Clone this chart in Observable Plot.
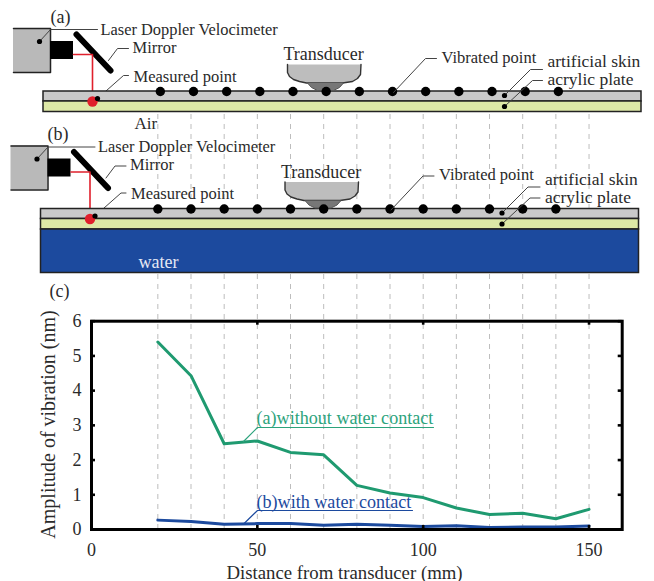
<!DOCTYPE html>
<html><head><meta charset="utf-8">
<script src="https://cdn.jsdelivr.net/npm/d3@7"></script>
<script src="https://cdn.jsdelivr.net/npm/@observablehq/plot@0.6"></script>
<style>html,body{margin:0;background:#fff}svg{display:block}</style>
</head><body><div id="chart"></div>
<script>
// ---- chart data ----
const distances = [20,30,40,50,60,70,80,90,100,110,120,130,140,150];
const withoutWater = [5.4,4.43,2.47,2.55,2.22,2.15,1.27,1.05,0.92,0.62,0.43,0.47,0.31,0.58];
const withWater = [0.27,0.23,0.15,0.17,0.17,0.12,0.15,0.12,0.09,0.11,0.06,0.07,0.07,0.1];
const xTicks = [0,50,100,150];
const yTicks = [0,1,2,3,4,5,6];
const vibratedMm = [20,30,40,50,60,70,80,90,100,110,120,130,140];

// ---- scale geometry ----
const L=91, R=621.7, T=320.7, B=529;
const mmPerPx = 160/(R-L), nmPerPx = 6/(B-T);
// schematic parts are laid out on the page, expressed through the chart's scales
const X = px => (px-L)*mmPerPx, Y = py => (B-py)*nmPerPx;
const pts = a => a.map(([x,y]) => ({x:X(x), y:Y(y)}));
const serif = "'Liberation Serif','Times New Roman',serif";
const GREEN="#1f9a70", GREENT="#2ca37c", BLUE="#1c4a9e", RED="#e0202c", INK="#222";

const poly = (a,o={}) => Plot.line(pts(a),{x:"x",y:"y",stroke:INK,strokeWidth:1,...o});
const rect = (x1,y1,x2,y2,o={}) => Plot.rect([{x1:X(x1),x2:X(x2),y1:Y(y1),y2:Y(y2)}],{x1:"x1",x2:"x2",y1:"y1",y2:"y2",...o});
const dot = (x,y,r,o={}) => Plot.dot(pts([[x,y]]),{x:"x",y:"y",r,fill:"#000",...o});
const label = (t,x,y,size=16,o={}) => Plot.text([{t,x:X(x),y:Y(y)}],{x:"x",y:"y",text:"t",textAnchor:"start",fontSize:size,fill:"#2a2a2a",...o});

function apparatus(dx,dy,ptsShift,opts){
  const s=([x,y])=>[x+dx,y+dy];
  const P=a=>a.map(s);
  return [
    rect(13+dx,28+dy,50+dx,72+dy,{fill:"#b9b9b9"}),
    poly(P([[13,28],[50,28],[50,72],[13,72]]),{strokeWidth:1.5}),
    rect(50+dx,41+dy,73+dx,59+dy,{fill:"#000"}),
    poly(P([[76,34],[110,70]]),{stroke:"#000",strokeWidth:6}),
    poly(P([[73,54],[92,54],[92,101]]),{stroke:RED,strokeWidth:1.6}),
    poly(P([[39,41],[50,29],[97,29]]),{stroke:"#444"}),
    poly(P([[108,60],[117,48],[128,48]]),{stroke:"#444"}),
    poly(P([[97,98],[123,75],[128,75]]),{stroke:"#444"}),
    dot(39+dx,41+dy,2.6),
    // plate
    rect(43+dx,91+dy,641+dx,101+dy,{fill:"#c9c9c9",stroke:INK,strokeWidth:1.5}),
    rect(43+dx,101+dy,641+dx,111.5+dy,{fill:"#dde8a6",stroke:INK,strokeWidth:1.5}),
    opts.water ? rect(43+dx,111.5+dy,641+dx,155+dy,{fill:BLUE,stroke:INK,strokeWidth:1.5}) : null,
    dot(92+dx,101+dy,5.2,{fill:RED}),
    dot(97+dx,98+dy,2.6),
    // transducer
    poly(P([[287,64],[287,72],[289,76],[293,79],[299,81],[306,82.5],[342,82.5],[352,81],[357,78],[360,74],[360.5,64]]),{fill:"#bdbdbd",strokeWidth:1.4,stroke:"#333"}),
    poly(P([[307,82.5],[311,87],[317,90],[333,90],[339,87],[343,82.5]]),{fill:"#777",stroke:"#555",strokeWidth:1}),
    // vibrated points
    Plot.dot(vibratedMm,{x:d=>d+ptsShift,y:()=>Y(91+dy),r:4.7,fill:"#000"}),
    // leaders for the skin / plate
    poly(P([[393,92],[425,58],[436,58]]),{stroke:"#444"}),
    poly(P([[504,95],[530,69],[542,69]]),{stroke:"#444"}),
    poly(P([[504,106],[532,80],[542,80]]),{stroke:"#444"}),
    dot(504+dx,95+dy,2.6),
    dot(504+dx,106+dy,2.6),
    label("Laser Doppler Velocimeter",100+dx,29+dy,16.4),
    label("Mirror",132+dx,47+dy,16.5),
    label("Measured point",133+dx,76+dy,16.5),
    label("Transducer",283+dx,54+dy,18),
    label("Vibrated point",441+dx,57+dy,16.5),
    label("artificial skin",547+dx,61+dy,17.5),
    label("acrylic plate",547+dx,79+dy,17.5)
  ];
}

const series = d => distances.map((x,i)=>({x,y:d[i]}));

const plot = Plot.plot({
  width:654, height:581,
  marginLeft:L, marginRight:654-R, marginTop:T, marginBottom:581-B,
  style:{fontFamily:serif, background:"#fff", overflow:"visible"},
  x:{domain:[0,160]},
  y:{domain:[0,6]},
  marks:[
    // dashed guides
    Plot.ruleX(distances,{x:d=>d,y1:0,y2:Y(112),stroke:"#bdbdbd",strokeWidth:1,strokeDasharray:"5,5"}),
    ...apparatus(0,0,0.75,{water:false}),
    ...apparatus(-2.5,117.5,0,{water:true}),
    label("(a)",50,17,18),
    label("Air",134,123,17),
    label("(b)",47,134,18),
    label("water",138,262,18,{fill:"#e4e8f4"}),
    label("(c)",49,291,18),
    // data
    Plot.line(series(withoutWater),{x:"x",y:"y",stroke:GREEN,strokeWidth:3}),
    Plot.line(series(withWater),{x:"x",y:"y",stroke:BLUE,strokeWidth:3}),
    // annotations
    poly([[243,441],[257,427],[433,427]],{stroke:GREENT,strokeWidth:1.2}),
    poly([[243.6,523],[257,510],[412,510]],{stroke:BLUE,strokeWidth:1.2}),
    label("(a)without water contact",256,418,18.1,{fill:GREENT}),
    label("(b)with water contact",256,502,18.1,{fill:BLUE}),
    // frame and ticks
    Plot.frame({stroke:"#000",strokeWidth:3}),
    Plot.ruleX(xTicks,{x:d=>d,y1:0,y2:4*nmPerPx,stroke:"#000",strokeWidth:2.6}),
    Plot.ruleX(xTicks,{x:d=>d,y1:6,y2:6-4*nmPerPx,stroke:"#000",strokeWidth:2.6}),
    Plot.ruleY(yTicks,{y:d=>d,x1:0,x2:4*mmPerPx,stroke:"#000",strokeWidth:2.6}),
    Plot.ruleY(yTicks,{y:d=>d,x1:160,x2:160-4*mmPerPx,stroke:"#000",strokeWidth:2.6}),
    Plot.axisX(xTicks,{anchor:"bottom",tickSize:0,tickPadding:14,fontSize:18,label:null,fill:"#2a2a2a"}),
    Plot.axisY(yTicks,{anchor:"left",tickSize:0,tickPadding:10,fontSize:18,label:null,fill:"#2a2a2a"}),
    label("Distance from transducer (mm)",344,572,18.8,{textAnchor:"middle"}),
    Plot.text([{t:"Amplitude of vibration (nm)",x:X(48),y:Y(424)}],{x:"x",y:"y",text:"t",rotate:-90,fontSize:20,fill:"#2a2a2a"})
  ]
});
document.getElementById("chart").append(plot);
</script></body></html>
